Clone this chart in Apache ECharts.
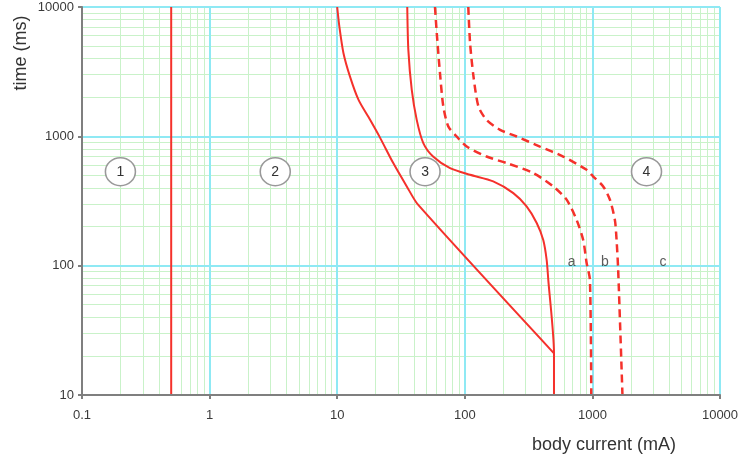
<!DOCTYPE html>
<html>
<head>
<meta charset="utf-8">
<script src="https://cdn.jsdelivr.net/npm/echarts@6/dist/echarts.min.js"></script>
<style>
html,body{margin:0;padding:0;background:#fff;}
#chart{width:744px;height:459px;}
</style>
</head>
<body>
<div id="chart"></div>
<script>
// ---- data ----
var xAxisTicks = [0.1, 1, 10, 100, 1000, 10000];
var yAxisTicks = [10, 100, 1000, 10000];
var xMajorGrid = [1, 10, 100, 1000, 10000];
var yMajorGrid = [100, 1000, 10000];
var xDecades = [0.1, 1, 10, 100, 1000];
var yDecades = [10, 100, 1000];
var minorSteps = [2, 3, 4, 5, 6, 7, 8, 9];

// zone 1 / 2 boundary (0.5 mA)
var lineThreshold = [[0.5, 10], [0.5, 10000]];
// boundary 2 / 3
var curveC1 = [[10.0, 10000], [10.4, 7050], [11.2, 4390], [12.6, 2895], [14.7, 1913], [18.1, 1341],
  [21.7, 973], [27.5, 621], [35.1, 410], [43.0, 296], [500, 21]];
// curve a (solid)
var curveA = [[35.4, 10000], [36.1, 4660], [38.4, 2285], [42.0, 1341], [47.3, 886], [56.4, 698],
  [76.6, 568], [110, 504], [167, 448], [240, 364], [305, 287], [366, 214], [412, 158], [438, 111],
  [451, 78], [500, 21], [500, 10]];
// curve b (dashed)
var curveB = [[58.4, 10000], [60.3, 6270], [63.9, 3077], [67.9, 1698], [74.3, 1190], [86.4, 997],
  [103.5, 834], [148, 698], [213, 621], [344, 520], [493, 410], [628, 324], [752, 226], [847, 158],
  [901, 105], [956, 78], [980, 10]];
// curve c (dashed)
var curveC = [[106.5, 10000], [110, 5245], [117, 2895], [128, 1698], [148, 1341], [189, 1123],
  [255, 997], [388, 834], [590, 698], [901, 551], [1015, 489], [1215, 410], [1371, 324], [1500, 226],
  [1547, 158], [1592, 93], [1720, 10]];

var zoneLabels = ['1', '2', '3', '4'];
var zoneX = [0.2, 3.27, 48.8, 2655];
var zoneY = 533;
var curveLabels = ['a', 'b', 'c'];
var curveLabelX = [687, 1253, 3580];
var curveLabelY = 106;

// ---- build ----
var RED = '#f5312b';
var MAJOR = '#8fe9f4';
var MINOR = '#c9f2c9';

var gridLines = [];
xDecades.forEach(function (d) {
  minorSteps.forEach(function (s) {
    gridLines.push({xAxis: d * s, lineStyle: {color: MINOR, width: 1, type: 'solid'}});
  });
});
yDecades.forEach(function (d) {
  minorSteps.forEach(function (s) {
    gridLines.push({yAxis: d * s, lineStyle: {color: MINOR, width: 1, type: 'solid'}});
  });
});
xMajorGrid.forEach(function (v) {
  gridLines.push({xAxis: v, lineStyle: {color: MAJOR, width: 2, type: 'solid'}});
});
yMajorGrid.forEach(function (v) {
  gridLines.push({yAxis: v, lineStyle: {color: MAJOR, width: 2, type: 'solid'}});
});

var labelFont = 'Liberation Sans, Arial, sans-serif';

var option = {
  animation: false,
  backgroundColor: '#fff',
  grid: {left: 82, right: 24, top: 7, bottom: 64, containLabel: false},
  xAxis: {
    type: 'log', logBase: 10, min: 0.1, max: 10000, z: 10,
    axisLine: {show: true, lineStyle: {color: '#7f7f7f', width: 2}},
    axisTick: {show: true, length: 4, lineStyle: {color: '#7f7f7f', width: 2}},
    splitLine: {show: false},
    minorTick: {show: false},
    axisLabel: {
      color: '#3a3a3a', fontSize: 13, fontFamily: labelFont, margin: 14,
      formatter: function (v) { return String(+v.toPrecision(6)); }
    }
  },
  yAxis: {
    type: 'log', logBase: 10, min: 10, max: 10000, z: 10,
    axisLine: {show: true, lineStyle: {color: '#7f7f7f', width: 2}},
    axisTick: {show: true, length: 4, lineStyle: {color: '#7f7f7f', width: 2}},
    splitLine: {show: false},
    axisLabel: {
      color: '#3a3a3a', fontSize: 13, fontFamily: labelFont, margin: 8,
      formatter: function (v) { return String(+v.toPrecision(6)); }
    }
  },
  graphic: [
    {type: 'text', x: 21, y: 53, rotation: Math.PI / 2,
      style: {text: 'time (ms)', fill: '#333', font: '18px ' + labelFont, align: 'center', verticalAlign: 'middle'}},
    {type: 'text', x: 604, y: 445,
      style: {text: 'body current (mA)', fill: '#333', font: '18px ' + labelFont, align: 'center', verticalAlign: 'middle'}}
  ],
  series: [
    {
      type: 'line', data: [], silent: true, z: 1,
      markLine: {silent: true, z: 1, symbol: ['none', 'none'], label: {show: false}, animation: false,
        emphasis: {disabled: true}, data: gridLines}
    },
    {type: 'line', data: lineThreshold, showSymbol: false, z: 3,
      lineStyle: {color: RED, width: 2}},
    {type: 'line', data: curveC1, showSymbol: false, smooth: 0.25, z: 3,
      lineStyle: {color: RED, width: 2}},
    {type: 'line', data: curveA, showSymbol: false, smooth: 0.25, z: 3,
      lineStyle: {color: RED, width: 2}},
    {type: 'line', data: curveB, showSymbol: false, smooth: 0.25, z: 3,
      lineStyle: {color: RED, width: 2.5, type: [8, 5]}},
    {type: 'line', data: curveC, showSymbol: false, smooth: 0.25, z: 3,
      lineStyle: {color: RED, width: 2.5, type: [8, 5]}},
    {
      type: 'scatter', z: 4, symbol: 'circle', symbolSize: [30, 28],
      data: zoneX.map(function (x, i) { return {value: [x, zoneY], name: zoneLabels[i]}; }),
      itemStyle: {color: '#fff', borderColor: '#999', borderWidth: 1.5, opacity: 1},
      label: {show: true, position: 'inside', formatter: '{b}', color: '#333', fontSize: 14, fontFamily: labelFont}
    },
    {
      type: 'scatter', z: 4, symbolSize: 0,
      data: curveLabelX.map(function (x, i) { return {value: [x, curveLabelY], name: curveLabels[i]}; }),
      label: {show: true, position: 'inside', formatter: '{b}', color: '#333', fontSize: 14, fontFamily: labelFont}
    }
  ]
};

var chart = echarts.init(document.getElementById('chart'), null, {renderer: 'canvas'});
chart.setOption(option);
</script>
</body>
</html>
